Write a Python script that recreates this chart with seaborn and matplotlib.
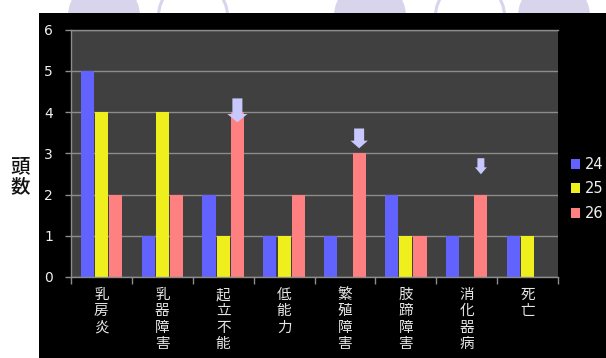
import numpy as np
import pandas as pd
import seaborn as sns
import matplotlib
matplotlib.use("Agg")
import matplotlib.pyplot as plt
from matplotlib.patches import Rectangle, Circle

# ---- data ----
categories = ["乳房炎", "乳器障害", "起立不能", "低能力", "繁殖障害", "肢蹄障害", "消化器病", "死亡"]
years = ["24", "25", "26"]
v24 = [5, 1, 2, 1, 1, 2, 1, 1]
v25 = [4, 4, 1, 1, 0, 1, 0, 1]
v26 = [2, 2, 4, 2, 3, 1, 2, 0]
yticks = [0, 1, 2, 3, 4, 5, 6]
ylabel = "頭数"
arrow_cats = ["起立不能", "繁殖障害", "消化器病"]

colors = ["#6262FF", "#EFEF1E", "#FF8080"]

df = pd.DataFrame({
    "cat": categories * 3,
    "year": [years[0]] * 8 + [years[1]] * 8 + [years[2]] * 8,
    "val": v24 + v25 + v26,
})

sns.set_theme(style="dark")
plt.rcParams["font.family"] = ["Noto Sans CJK JP", "DejaVu Sans"]

W, H = 606, 358
fig = plt.figure(figsize=(W / 100, H / 100), dpi=100, facecolor="white")

# decorative circles at top (pixel coords -> inches)
def px(x, y):
    return (x / 100, (H - y) / 100)

circ_col = "#D8D4EC"
for cx, filled in [(104, True), (193, False), (370, True), (470, False), (554, True)]:
    if filled:
        c = Circle(px(cx, 16), 0.36, transform=fig.dpi_scale_trans,
                   facecolor=circ_col, edgecolor="none", zorder=0)
    else:
        c = Circle(px(cx, 16), 0.345, transform=fig.dpi_scale_trans,
                   facecolor="white", edgecolor=circ_col, lw=2.2, zorder=0)
    fig.patches.append(c)

# black panel
fig.patches.append(Rectangle(px(39, H), (W - 39) / 100, (H - 13) / 100,
                             transform=fig.dpi_scale_trans, facecolor="black",
                             edgecolor="none", zorder=1))

ax = fig.add_axes([71 / W, (H - 277) / H, (558 - 71) / W, (277 - 29.5) / H])
ax.set_zorder(3)
ax.set_facecolor("#404040")

sns.barplot(data=df, x="cat", y="val", hue="year", palette=colors, order=categories,
            hue_order=years, width=0.7, gap=0.08, linewidth=0, saturation=1, ax=ax)

ax.set_ylim(0, 6)
ax.set_xlim(-0.5, len(categories) - 0.5)
ax.set_yticks(yticks)
ax.set_yticklabels([str(t) for t in yticks], color="#F0F0F0", fontsize=10,
                   family=["DejaVu Sans"])
ax.yaxis.grid(True, color="#8C8C8C", lw=1)
ax.xaxis.grid(False)
ax.set_axisbelow(True)
ax.tick_params(axis="y", length=4, width=1, color="#8C8C8C", pad=9, left=True)

ax.set_xticks(range(len(categories)))
ax.set_xticklabels(["\n".join(c) for c in categories], color="#E6E6E6", fontsize=10.5,
                   linespacing=1.2, va="top")
ax.tick_params(axis="x", length=0, pad=8)
ax.set_xticks(np.arange(-0.5, len(categories), 1), minor=True)
ax.tick_params(axis="x", which="minor", length=5, width=1, color="#8C8C8C", bottom=True)
ax.set_xlabel("")
ax.set_ylabel("")

for s in ["left", "top", "bottom"]:
    ax.spines[s].set_color("#8C8C8C")
    ax.spines[s].set_linewidth(1)
ax.spines["right"].set_visible(False)

# arrows above highlighted bars (from the 26 series bars)
bars26 = ax.containers[2]
arrow_specs = [(0.33, -0.25, 1.45, 0.72, 0.6),
               (0.60, 0.12, 1.25, 0.72, 0.55),
               (0.88, 0.49, 0.86, 0.50, 0.50)]
for cat, (a0, a1, hw, tw, hl) in zip(arrow_cats, arrow_specs):
    p = bars26[categories.index(cat)]
    x = p.get_x() + p.get_width() / 2
    top = p.get_height()
    ax.annotate("", xy=(x, top + a1), xytext=(x, top + a0), xycoords="data",
                arrowprops=dict(arrowstyle=f"simple,head_length={hl},head_width={hw},tail_width={tw}",
                                mutation_scale=10, color="#C8C8FF", lw=0,
                                shrinkA=0, shrinkB=0), zorder=5)

# legend
sns.move_legend(ax, "center left", bbox_to_anchor=(570 / W, 1 - 189 / H),
                bbox_transform=fig.transFigure, frameon=False, title=None,
                fontsize=10.5, labelcolor="#F0F0F0", handlelength=0.6, handleheight=0.7,
                handletextpad=0.3, labelspacing=0.65, borderpad=0.1, borderaxespad=0)
for t in ax.get_legend().get_texts():
    t.set_family(["DejaVu Sans"])

fig.text(20 / W, 1 - 177 / H, "\n".join(ylabel), ha="center", va="center",
         fontsize=14, color="#111111", linespacing=1.0, fontweight="medium")

fig.savefig("out.png", dpi=100, facecolor="white")
